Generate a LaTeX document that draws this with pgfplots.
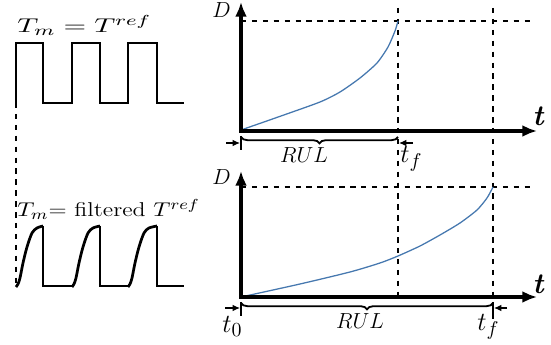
\documentclass[border=0pt]{standalone}
\usepackage{pgfplots}
\pgfplotsset{compat=1.18}
\usepackage{graphicx}
\usetikzlibrary{arrows.meta,decorations.pathreplacing}

\definecolor{dmg}{RGB}{70,120,175}

% everything below is in pixel units of the 551x345 sketch
\pgfplotstableread{
x y
241 130
281 116
320 102
340 92
360 78
377 63
388 47
395 31
398 21
}\damagetop

\pgfplotstableread{
x y
241 297
300 284
350 272
380 263
398 256
420 246
440 235
460 223
477 210
487 198
493 187
}\damagebot

\begin{document}
\begin{tikzpicture}
\begin{axis}[
    x = 0.55pt, y = 0.55pt,
    y dir = reverse,
    xmin = 0, xmax = 551,
    ymin = 0, ymax = 345,
    axis lines = none,
    clip = false,
    every axis plot/.append style = {mark = none},
]

    % invisible frame, keeps the page the size of the sketch
    \addplot[draw = none] coordinates {(0,0) (551,345)};

    % reference temperature, square wave
    \addplot[black, line width = 1.5pt] coordinates {
        (16,103) (16,43) (43,43) (43,103) (72,103) (72,43) (100,43) (100,103)
        (128,103) (128,43) (157,43) (157,103) (184,103)
    };

    % filtered temperature
    \addplot[black, line width = 1.5pt, smooth, tension = 0.5] coordinates {
        (16,287) (18,284) (20,278) (23,263) (27,247) (32,233) (37,228) (43,226)
    };
    \addplot[black, line width = 1.5pt, smooth, tension = 0.5] coordinates {
        (72,287) (74,284) (76,278) (79,263) (83,247) (88,233) (93,228) (100,226)
    };
    \addplot[black, line width = 1.5pt, smooth, tension = 0.5] coordinates {
        (128,287) (130,284) (132,278) (135,263) (139,247) (144,233) (149,228) (157,226)
    };
    \addplot[black, line width = 1.5pt] coordinates {
        (43,226) (43,286) (72,286)
    };
    \addplot[black, line width = 1.5pt] coordinates {
        (100,226) (100,286) (128,286)
    };
    \addplot[black, line width = 1.5pt] coordinates {
        (157,226) (157,286) (184,286)
    };

    % dashed guides
    \addplot[black, dashed, line width = 0.6pt] coordinates {(16,103) (16,286)};
    \addplot[black, dashed, line width = 0.6pt] coordinates {(241,21) (533,21)};
    \addplot[black, dashed, line width = 0.6pt] coordinates {(241,187) (533,187)};
    \addplot[black, dashed, line width = 0.6pt] coordinates {(398,8) (398,300)};
    \addplot[black, dashed, line width = 0.6pt] coordinates {(493,8) (493,320)};

    % damage curves
    \addplot[dmg, line width = 0.7pt, smooth, tension = 0.4] table {\damagetop};
    \addplot[dmg, line width = 0.7pt, smooth, tension = 0.4] table {\damagebot};

    % axes of the two damage plots
    \addplot[black, line width = 2.2pt, -{Latex[length = 8pt, width = 6.5pt]}]
        coordinates {(241,133) (241,2)};
    \addplot[black, line width = 2.2pt, -{Latex[length = 8pt, width = 6.5pt]}]
        coordinates {(239,131) (537,131)};
    \addplot[black, line width = 2.2pt, -{Latex[length = 8pt, width = 6.5pt]}]
        coordinates {(241,299) (241,171)};
    \addplot[black, line width = 2.2pt, -{Latex[length = 8pt, width = 6.5pt]}]
        coordinates {(239,297) (537,297)};

    % RUL braces
    \addplot[black, line width = 1pt, decorate,
        decoration = {brace, mirror, amplitude = 3.5pt}]
        coordinates {(241,137) (398,137)};
    \addplot[black, line width = 1pt, decorate,
        decoration = {brace, mirror, amplitude = 3.5pt}]
        coordinates {(241,303) (493,303)};

    % dimension marks
    \addplot[black, line width = 0.6pt] coordinates {(241,136) (241,150)};
    \addplot[black, line width = 0.6pt, -{Latex[length = 4pt, width = 3.5pt]}]
        coordinates {(226,143) (240,143)};
    \addplot[black, line width = 0.6pt, -{Latex[length = 4pt, width = 3.5pt]}]
        coordinates {(413,143) (399,143)};
    \addplot[black, line width = 0.6pt] coordinates {(241,302) (241,316)};
    \addplot[black, line width = 0.6pt] coordinates {(493,302) (493,316)};
    \addplot[black, line width = 0.6pt, -{Latex[length = 4pt, width = 3.5pt]}]
        coordinates {(225,308) (240,308)};
    \addplot[black, line width = 0.6pt, -{Latex[length = 4pt, width = 3.5pt]}]
        coordinates {(507,308) (494,308)};

    % labels
    \node[anchor = base west, inner sep = 0pt] at (axis cs:17,33)
        {\fontsize{11}{13}\selectfont\scalebox{1.46}[1]{$T_m = T^{ref}$}};
    \node[anchor = base west, inner sep = 0pt] at (axis cs:17,217)
        {\fontsize{11}{13}\selectfont\scalebox{1.19}[1]{$T_m$= filtered $T^{ref}$}};
    \node[anchor = base west, inner sep = 0pt] at (axis cs:212,18)
        {\fontsize{13}{15}\selectfont$D$};
    \node[anchor = base west, inner sep = 0pt] at (axis cs:212,185)
        {\fontsize{13}{15}\selectfont$D$};
    \node[anchor = base west, inner sep = 0pt] at (axis cs:532,126)
        {\fontsize{16}{18}\selectfont\textbf{\textit{t}}};
    \node[anchor = base west, inner sep = 0pt] at (axis cs:532,294)
        {\fontsize{16}{18}\selectfont\textbf{\textit{t}}};
    \node[anchor = base, inner sep = 0pt] at (axis cs:304,163)
        {\fontsize{12}{14}\selectfont$RUL$};
    \node[anchor = base, inner sep = 0pt] at (axis cs:360,329)
        {\fontsize{12}{14}\selectfont$RUL$};
    \node[anchor = base west, inner sep = 0pt] at (axis cs:400,163)
        {\fontsize{15}{17}\selectfont$t_f$};
    \node[anchor = base west, inner sep = 0pt] at (axis cs:477,331)
        {\fontsize{15}{17}\selectfont$t_f$};
    \node[anchor = base west, inner sep = 0pt] at (axis cs:222,333)
        {\fontsize{15}{17}\selectfont$t_0$};
\end{axis}
\end{tikzpicture}
\end{document}
